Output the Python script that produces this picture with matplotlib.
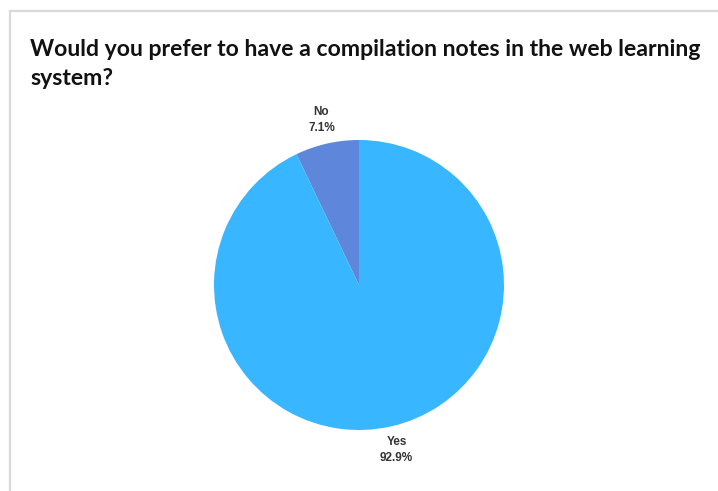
import matplotlib
matplotlib.use('Agg')
import matplotlib.pyplot as plt
from matplotlib.lines import Line2D

title = 'Would you prefer to have a compilation notes in the web learning\nsystem?'
labels = ['No', 'Yes']
shares = [7.1, 92.9]
colors = ['#5E86DA', '#38B6FF']

W, H = 718, 491
fig = plt.figure(figsize=(W / 100, H / 100), dpi=100)
fig.patch.set_facecolor('white')

# card border (top and left)
fig.add_artist(Line2D([10 / W, 10 / W], [0, 1 - 11 / H], color='#d9d9d9', lw=1.6))
fig.add_artist(Line2D([10 / W, 1], [1 - 11 / H, 1 - 11 / H], color='#d9d9d9', lw=1.6))

fig.text(30 / W, 1 - 39 / H, title, fontsize=16.6, fontweight='bold',
         family=['Lato', 'DejaVu Sans'], color='#111111', va='top',
         linespacing=1.45)

cx, cy, r = 359, H - 285, 145
ax = fig.add_axes([(cx - r) / W, (cy - r) / H, 2 * r / W, 2 * r / H])
wedges, texts = ax.pie(shares, colors=colors, startangle=90, counterclock=True,
                       labels=[f'{l}\n{v}%' for l, v in zip(labels, shares)],
                       labeldistance=1.17,
                       textprops=dict(fontsize=8.5, fontweight='bold', color='#333333',
                                      family=['Liberation Sans', 'DejaVu Sans'],
                                      linespacing=1.45))
for t in texts:
    t.set_ha('center')
    t.set_va('center')
ax.set_xlim(-1, 1)
ax.set_ylim(-1, 1)
ax.set_aspect('equal')

fig.savefig('out.png', dpi=100)
